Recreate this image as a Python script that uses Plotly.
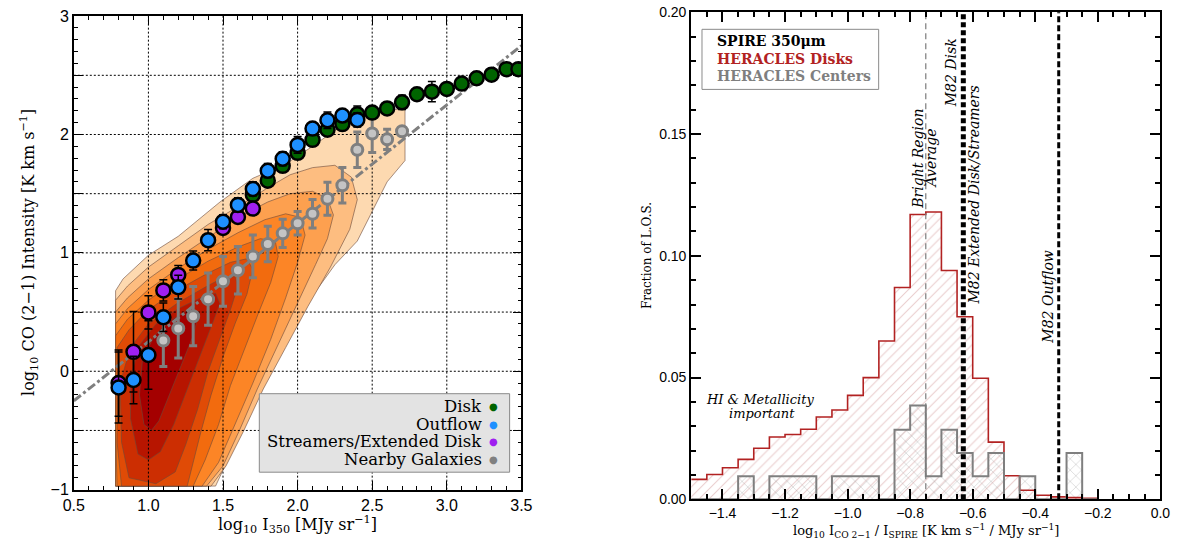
import plotly.graph_objects as go

# ---------------- LEFT PANEL DATA ----------------
disk_x = [1.7, 1.8, 1.9, 2.0, 2.1, 2.2, 2.3, 2.4, 2.5, 2.6, 2.7, 2.8, 2.9, 3.0, 3.1, 3.2, 3.3, 3.4, 3.48]
disk_y = [1.49, 1.61, 1.735, 1.845, 1.955, 2.04, 2.088, 2.17, 2.185, 2.22, 2.272, 2.34, 2.362, 2.385, 2.43, 2.475, 2.505, 2.552, 2.552]
disk_err = [0.05, 0.05, 0.05, 0.05, 0.05, 0.05, 0.05, 0.07, 0.05, 0.05, 0.06, 0.05, 0.085, 0.05, 0.05, 0.05, 0.05, 0.05, 0.05]

outflow_x = [0.8, 0.9, 1.0, 1.1, 1.2, 1.3, 1.4, 1.5, 1.6, 1.7, 1.8, 1.9, 2.0, 2.1, 2.2, 2.3, 2.4]
outflow_y = [-0.137, -0.074, 0.137, 0.456, 0.71, 0.935, 1.107, 1.263, 1.405, 1.54, 1.694, 1.795, 1.912, 2.05, 2.12, 2.16, 2.123]
outflow_err = [0.3, 0.2, 0.29, 0.12, 0.1, 0.08, 0.09, 0.06, 0.06, 0.06, 0.06, 0.06, 0.07, 0.05, 0.07, 0.05, 0.06]

streamer_x = [0.8, 0.9, 1.0, 1.1, 1.2, 1.5, 1.6, 1.7]
streamer_y = [-0.10, 0.164, 0.497, 0.683, 0.814, 1.21, 1.303, 1.374]
streamer_err = [0.28, 0.34, 0.14, 0.09, 0.08, 0.05, 0.05, 0.05]

nearby_x = [1.1, 1.2, 1.3, 1.4, 1.5, 1.6, 1.7, 1.8, 1.9, 2.0, 2.1, 2.2, 2.3, 2.4, 2.5, 2.6, 2.7]
nearby_y = [0.26, 0.362, 0.465, 0.609, 0.76, 0.853, 0.97, 1.074, 1.165, 1.25, 1.33, 1.457, 1.571, 1.871, 2.008, 1.959, 2.027]
nearby_err = [0.22, 0.25, 0.25, 0.22, 0.21, 0.2, 0.18, 0.15, 0.12, 0.1, 0.12, 0.14, 0.15, 0.15, 0.16, 0.085, 0.03]

# dash-dot reference line (end points)
fit_x = [0.5, 3.5]
fit_y = [-0.25, 2.75]

# density contour outlines (x, y vertices), outermost first
contour_levels = [
    [(0.78, -0.97), (0.78, 0.68), (0.83, 0.78), (1.0, 0.98), (1.2, 1.14), (1.48, 1.43), (1.7, 1.63),
     (1.92, 1.75), (2.1, 1.9), (2.3, 2.08), (2.45, 2.18), (2.72, 2.22), (2.72, 1.78), (2.6, 1.6),
     (2.5, 1.35), (2.4, 1.1), (2.25, 0.9), (2.05, 0.55), (1.9, 0.25), (1.78, -0.05), (1.65, -0.4),
     (1.55, -0.7), (1.45, -0.97)],
    [(0.78, -0.97), (0.78, 0.6), (0.86, 0.72), (1.0, 0.88), (1.2, 1.06), (1.4, 1.24), (1.64, 1.42),
     (1.8, 1.55), (1.95, 1.66), (2.1, 1.72), (2.25, 1.74), (2.36, 1.64), (2.4, 1.45), (2.35, 1.2),
     (2.22, 0.88), (2.07, 0.55), (1.92, 0.2), (1.77, -0.15), (1.64, -0.5), (1.52, -0.8), (1.42, -0.97)],
    [(0.78, -0.97), (0.78, 0.5), (0.86, 0.62), (1.0, 0.78), (1.2, 0.96), (1.4, 1.13), (1.6, 1.3),
     (1.8, 1.43), (1.95, 1.5), (2.1, 1.52), (2.2, 1.46), (2.24, 1.32), (2.2, 1.12), (2.12, 0.9),
     (2.0, 0.58), (1.87, 0.22), (1.73, -0.15), (1.61, -0.5), (1.5, -0.8), (1.39, -0.97)],
    [(0.78, -0.97), (0.78, 0.4), (0.86, 0.53), (1.0, 0.69), (1.2, 0.87), (1.4, 1.03), (1.6, 1.17),
     (1.78, 1.28), (1.92, 1.33), (2.02, 1.3), (2.05, 1.15), (2.0, 0.92), (1.92, 0.62), (1.82, 0.27),
     (1.7, -0.1), (1.58, -0.45), (1.47, -0.77), (1.36, -0.97)],
    [(0.79, -0.97), (0.78, -0.5), (0.78, 0.3), (0.86, 0.44), (1.0, 0.6), (1.2, 0.78), (1.4, 0.93),
     (1.6, 1.05), (1.75, 1.12), (1.85, 1.1), (1.87, 0.97), (1.82, 0.75), (1.74, 0.5), (1.65, 0.2),
     (1.55, -0.12), (1.47, -0.45), (1.38, -0.75), (1.3, -0.97)],
    [(0.82, -0.97), (0.79, -0.6), (0.79, 0.2), (0.87, 0.35), (1.0, 0.52), (1.2, 0.69), (1.4, 0.83),
     (1.55, 0.92), (1.66, 0.95), (1.7, 0.86), (1.66, 0.65), (1.58, 0.4), (1.5, 0.12), (1.42, -0.2),
     (1.35, -0.52), (1.29, -0.82), (1.26, -0.97)],
    [(0.87, -0.9), (0.82, -0.6), (0.81, -0.1), (0.88, 0.2), (1.0, 0.4), (1.2, 0.58), (1.38, 0.71),
     (1.5, 0.79), (1.58, 0.8), (1.6, 0.72), (1.55, 0.52), (1.48, 0.28), (1.4, 0.0), (1.33, -0.32),
     (1.25, -0.62), (1.18, -0.85), (1.05, -0.95)],
    [(0.93, -0.7), (0.88, -0.4), (0.88, -0.05), (0.94, 0.22), (1.05, 0.4), (1.2, 0.53), (1.35, 0.62),
     (1.45, 0.66), (1.48, 0.57), (1.42, 0.37), (1.34, 0.12), (1.25, -0.18), (1.17, -0.45), (1.08, -0.68),
     (1.0, -0.75)],
    [(0.97, -0.45), (0.94, -0.2), (0.96, 0.1), (1.04, 0.3), (1.15, 0.43), (1.27, 0.52), (1.34, 0.5),
     (1.3, 0.3), (1.22, 0.05), (1.14, -0.2), (1.07, -0.42), (1.02, -0.5)],
]
contour_colors = ['#fdd9b0', '#fdbd80', '#fda04f', '#fc8526', '#f26b0e', '#e04b06', '#cc2e02',
                  '#b71500', '#a40000']

left_grid_x = [1.0, 1.5, 2.0, 2.5, 3.0]
left_grid_y = [-0.5, 0.0, 0.5, 1.0, 1.5, 2.0, 2.5]
left_ytick_vals = [-1, -0.5, 0, 0.5, 1, 1.5, 2, 2.5, 3]
left_ytick_text = ['\u22121', '', '0', '', '1', '', '2', '', '3']

legend_labels = ['Disk', 'Outflow', 'Streamers/Extended Disk', 'Nearby Galaxies']
legend_colors = ['#006400', '#1e90ff', '#a020f0', '#808080']

# ---------------- RIGHT PANEL DATA ----------------
bin_left = [-1.50, -1.45, -1.40, -1.35, -1.30, -1.25, -1.20, -1.15, -1.10, -1.05, -1.00, -0.95, -0.90,
            -0.85, -0.80, -0.75, -0.70, -0.65, -0.60, -0.55, -0.50, -0.45, -0.40, -0.35, -0.30, -0.25]
bin_width = 0.05
disks_frac = [0.0082, 0.0102, 0.013, 0.0164, 0.021, 0.0256, 0.0266, 0.0288, 0.0338, 0.0367, 0.0427,
              0.050, 0.065, 0.087, 0.117, 0.118, 0.094, 0.075, 0.0497, 0.0235, 0.0097, 0.0037,
              0.0017, 0.001, 0.0007, 0.0004]
centers_frac = [0, 0, 0, 0.0095, 0, 0.0095, 0.0095, 0.0095, 0, 0.0095, 0.0095, 0.0095, 0,
                0.0286, 0.0385, 0.0095, 0.0286, 0.019, 0.0095, 0.019, 0, 0.0095, 0, 0, 0.019, 0]

avg_line_x = -0.75
m82_disk_x = -0.63
m82_outflow_x = -0.325

SERIF = 'DejaVu Serif'
SANS = 'Liberation Sans'

fig = go.Figure()

# ---------- left: contours ----------
for poly, col in zip(contour_levels, contour_colors):
    xs = [p[0] for p in poly] + [poly[0][0]]
    ys = [p[1] for p in poly] + [poly[0][1]]
    fig.add_trace(go.Scatter(x=xs, y=ys, mode='lines', fill='toself', fillcolor=col,
                             line=dict(color='#6b4a3a', width=0.6), hoverinfo='skip',
                             showlegend=False, xaxis='x', yaxis='y'))

# grid lines (drawn above the contours)
gx, gy = [], []
for v in left_grid_x:
    gx += [v, v, None]
    gy += [-1, 3, None]
for v in left_grid_y:
    gx += [0.5, 3.5, None]
    gy += [v, v, None]
fig.add_trace(go.Scatter(x=gx, y=gy, mode='lines', line=dict(color='black', width=1, dash='2px,2px'),
                         hoverinfo='skip', showlegend=False, xaxis='x', yaxis='y'))

# fit line
fig.add_trace(go.Scatter(x=fit_x, y=fit_y, mode='lines', line=dict(color='#7f7f7f', width=3, dash='dashdot'),
                         hoverinfo='skip', showlegend=False, xaxis='x', yaxis='y'))

# nearby galaxies
fig.add_trace(go.Scatter(x=nearby_x, y=nearby_y, mode='markers',
                         error_y=dict(type='data', array=nearby_err, color='#7f7f7f', thickness=3, width=4),
                         marker=dict(size=11, color='#c4c4c4', line=dict(color='#7f7f7f', width=3)),
                         showlegend=False, xaxis='x', yaxis='y'))

for xs, ys, es, col in [(disk_x, disk_y, disk_err, '#006400'),
                        (streamer_x, streamer_y, streamer_err, '#a020f0'),
                        (outflow_x, outflow_y, outflow_err, '#1e90ff')]:
    fig.add_trace(go.Scatter(x=xs, y=ys, mode='markers',
                             error_y=dict(type='data', array=es, color='black', thickness=1.5, width=4),
                             marker=dict(size=14, color=col, line=dict(color='black', width=2.5)),
                             showlegend=False, xaxis='x', yaxis='y'))

# ---------- right: histograms ----------
fig.add_trace(go.Bar(x=bin_left, y=disks_frac, width=bin_width, offset=0,
                     marker=dict(color='rgba(255,255,255,0)', line=dict(width=0),
                                 pattern=dict(shape='/', fgcolor='#d49a9a', bgcolor='rgba(255,255,255,0)',
                                              size=7, solidity=0.15)),
                     showlegend=False, xaxis='x2', yaxis='y2', hoverinfo='skip'))
fig.add_trace(go.Bar(x=bin_left, y=centers_frac, width=bin_width, offset=0,
                     marker=dict(color='rgba(255,255,255,0)', line=dict(width=0),
                                 pattern=dict(shape='x', fgcolor='#9a9a9a', bgcolor='rgba(255,255,255,0)',
                                              size=8, solidity=0.15)),
                     showlegend=False, xaxis='x2', yaxis='y2', hoverinfo='skip'))

edges = bin_left + [bin_left[-1] + bin_width]
fig.add_trace(go.Scatter(x=edges, y=disks_frac + [0], mode='lines', line=dict(color='#b22222', width=1.6, shape='hv'),
                         showlegend=False, xaxis='x2', yaxis='y2', hoverinfo='skip'))
fig.add_trace(go.Scatter(x=edges, y=centers_frac + [0], mode='lines', line=dict(color='#7f7f7f', width=2, shape='hv'),
                         showlegend=False, xaxis='x2', yaxis='y2', hoverinfo='skip'))

# reference vertical lines
fig.add_trace(go.Scatter(x=[avg_line_x, avg_line_x], y=[0, 0.2], mode='lines',
                         line=dict(color='#7a7a7a', width=1.2, dash='6px,4px'),
                         showlegend=False, xaxis='x2', yaxis='y2', hoverinfo='skip'))
fig.add_trace(go.Scatter(x=[m82_disk_x, m82_disk_x], y=[0, 0.2], mode='lines',
                         line=dict(color='black', width=5, dash='5px,3px'),
                         showlegend=False, xaxis='x2', yaxis='y2', hoverinfo='skip'))
fig.add_trace(go.Scatter(x=[m82_outflow_x, m82_outflow_x], y=[0, 0.2], mode='lines',
                         line=dict(color='black', width=3, dash='6px,3px'),
                         showlegend=False, xaxis='x2', yaxis='y2', hoverinfo='skip'))

# ---------- layout ----------
tickfont_l = dict(family=SANS, size=16, color='black')
tickfont_r = dict(family=SANS, size=14, color='black')

fig.update_layout(
    width=1191, height=550,
    margin=dict(l=0, r=0, t=0, b=0),
    paper_bgcolor='white', plot_bgcolor='white',
    barmode='overlay', bargap=0,
    xaxis=dict(domain=[64 / 1191, 520 / 1191], range=[0.5, 3.5], dtick=0.5, tick0=0.5, tickformat='.1f',
               ticks='inside', ticklen=9, tickwidth=1, tickcolor='black', showline=True, linecolor='black',
               linewidth=1.5, mirror='ticks', showgrid=False, zeroline=False, tickfont=tickfont_l,
               ticklabeloverflow='allow',
               minor=dict(dtick=0.1, ticks='inside', ticklen=4, tickcolor='black', showgrid=False)),
    yaxis=dict(domain=[1 - 497 / 550, 1 - 8 / 550], range=[-1, 3.003], tickvals=left_ytick_vals,
               ticktext=left_ytick_text, ticks='inside', ticklen=9, tickwidth=1, tickcolor='black',
               showline=True, linecolor='black', linewidth=1.5, mirror='ticks', showgrid=False,
               zeroline=False, tickfont=tickfont_l, ticklabeloverflow='allow',
               minor=dict(dtick=0.1, ticks='inside', ticklen=4, tickcolor='black', showgrid=False)),
    xaxis2=dict(domain=[693 / 1191, 1171 / 1191], range=[-1.5, 0.0], dtick=0.2, tick0=0, tickformat='.1f',
                anchor='y2', ticks='inside', ticklen=10, tickwidth=1.5, tickcolor='black', showline=True,
                linecolor='black', linewidth=2, mirror='ticks', showgrid=False, zeroline=False,
                tickfont=tickfont_r, ticklabeloverflow='allow',
                minor=dict(dtick=0.05, ticks='inside', ticklen=5, tickcolor='black', showgrid=False)),
    yaxis2=dict(domain=[1 - 507 / 550, 1 - 4 / 550], range=[0, 0.2002], dtick=0.05, tickformat='.2f',
                anchor='x2', ticks='inside', ticklen=10, tickwidth=1.5, tickcolor='black', showline=True,
                linecolor='black', linewidth=2, mirror='ticks', showgrid=False, zeroline=False,
                tickfont=tickfont_r, ticklabeloverflow='allow',
                minor=dict(dtick=0.01, ticks='inside', ticklen=5, tickcolor='black', showgrid=False)),
)

ann = []
shapes = []


def pann(text, px, py, size, color='black', angle=0, xanchor='center', family=SERIF):
    return dict(text=text, x=px / 1191, y=1 - py / 550, xref='paper', yref='paper', textangle=angle,
                xanchor=xanchor, yanchor='middle', showarrow=False,
                font=dict(family=family, size=size, color=color))


# axis titles
ann.append(pann('log<sub>10</sub> CO (2\u22121) Intensity [K km s<sup>\u22121</sup>]', 18, 252, 16, angle=-90))
ann.append(pann('log<sub>10</sub> I<sub>350</sub> [MJy sr<sup>\u22121</sup>]', 292, 533, 16))
ann.append(pann('Fraction of L.O.S.', 648, 256, 12, angle=-90))
ann.append(pann('log<sub>10</sub> I<sub>CO 2\u22121</sub> / I<sub>SPIRE</sub> [K km s<sup>\u22121</sup> / MJy sr<sup>\u22121</sup>]',
                932, 540, 13))

# left legend
shapes.append(dict(type='rect', xref='paper', yref='paper', x0=253 / 1191, x1=508 / 1191,
                   y0=1 - 479 / 550, y1=1 - 398 / 550, fillcolor='#e3e3e3',
                   line=dict(color='#8a8a8a', width=1), layer='above'))
for i, (lab, col) in enumerate(zip(legend_labels, legend_colors)):
    py = 411.5 + 18 * i
    ann.append(pann(lab, 482, py, 16.5, xanchor='right'))
    ann.append(pann('\u25cf', 492, py, 10, color=col))

# right legend
shapes.append(dict(type='rect', xref='paper', yref='paper', x0=704 / 1191, x1=884 / 1191,
                   y0=1 - 84 / 550, y1=1 - 22 / 550, fillcolor='white',
                   line=dict(color='#8a8a8a', width=1), layer='above'))
for i, (lab, col) in enumerate(zip(['SPIRE 350\u03bcm', 'HERACLES Disks', 'HERACLES Centers'],
                                   ['black', '#b22222', '#7f7f7f'])):
    ann.append(pann('<b>' + lab + '</b>', 717, 34.5 + 18 * i, 14, color=col, xanchor='left'))


def dann(text, x, y, angle=-90, size=14):
    return dict(text='<i>' + text + '</i>', x=x, y=y, xref='x2', yref='y2', textangle=angle,
                xanchor='center', yanchor='middle', showarrow=False,
                font=dict(family=SERIF, size=size, color='black'))


ann.append(dann('Bright Region', -0.774, 0.14))
ann.append(dann('Average', -0.733, 0.14))
ann.append(dann('M82 Disk', -0.669, 0.175))
ann.append(dann('M82 Extended Disk/Streamers', -0.597, 0.125))
ann.append(dann('M82 Outflow', -0.358, 0.083))
ann.append(dann('HI &amp; Metallicity', -1.28, 0.0408, angle=0, size=13))
ann.append(dann('important', -1.275, 0.0352, angle=0, size=13))

fig.update_layout(annotations=ann, shapes=shapes)

page_fix = (
    "document.documentElement.style.margin='0';document.body.style.margin='0';"
    "document.documentElement.style.overflow='hidden';document.body.style.overflow='hidden';"
    "var gd=document.getElementById('{plot_id}');"
    "gd.style.position='fixed';gd.style.left='0px';gd.style.top='0px';"
)
fig.write_html('out.html', config={'displayModeBar': False}, post_script=page_fix)
